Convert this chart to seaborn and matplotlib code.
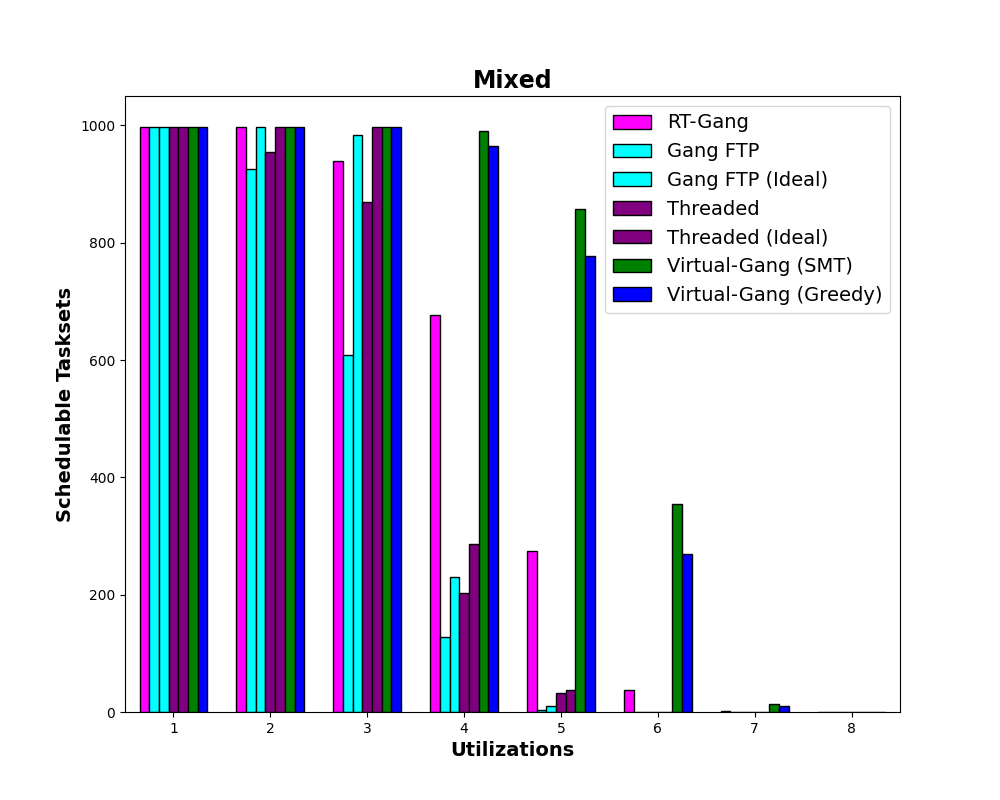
import pandas as pd
import matplotlib.pyplot as plt
import seaborn as sns

utilizations = [1, 2, 3, 4, 5, 6, 7, 8]
series = ['RT-Gang', 'Gang FTP', 'Gang FTP (Ideal)', 'Threaded', 'Threaded (Ideal)',
          'Virtual-Gang (SMT)', 'Virtual-Gang (Greedy)']
colors = ['magenta', 'cyan', 'cyan', 'purple', 'purple', 'green', 'blue']

rt_gang = [998, 997, 940, 676, 275, 37, 1, 0]
gang_ftp = [998, 926, 608, 128, 3, 0, 0, 0]
gang_ftp_ideal = [998, 998, 983, 230, 10, 0, 0, 0]
threaded = [998, 955, 870, 202, 32, 0, 0, 0]
threaded_ideal = [998, 998, 998, 286, 38, 0, 0, 0]
vg_smt = [998, 998, 998, 990, 857, 354, 13, 0]
vg_greedy = [998, 998, 997, 965, 777, 269, 10, 0]

values = [rt_gang, gang_ftp, gang_ftp_ideal, threaded, threaded_ideal, vg_smt, vg_greedy]
rows = []
for name, vals in zip(series, values):
    for u, v in zip(utilizations, vals):
        rows.append({'Utilizations': u, 'Series': name, 'Tasksets': v})
df = pd.DataFrame(rows)

fig, ax = plt.subplots(figsize=(10, 8), dpi=100)
sns.barplot(data=df, x='Utilizations', y='Tasksets', hue='Series', hue_order=series,
            palette=colors, width=0.7, edgecolor='black', linewidth=1, ax=ax, saturation=1)
ax.set_title('Mixed', fontsize=17, fontweight='bold')
ax.set_xlabel('Utilizations', fontsize=14, fontweight='bold')
ax.set_ylabel('Schedulable Tasksets', fontsize=14, fontweight='bold')
ax.set_xlim(-0.5, 7.5)
ax.set_ylim(0, 1050)
ax.legend(fontsize=14, loc='upper right')
plt.savefig('out.png')
